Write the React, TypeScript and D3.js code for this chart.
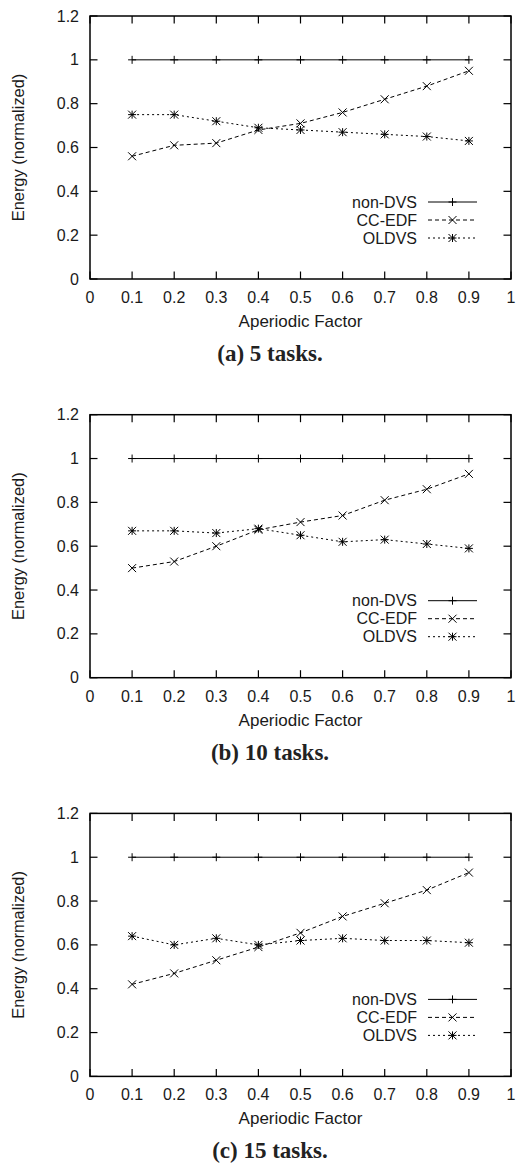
import React from 'react';
import * as d3 from 'd3';

// aperiodic factor values on the x axis
const factors = [0.1, 0.2, 0.3, 0.4, 0.5, 0.6, 0.7, 0.8, 0.9];

const xTicks = [0, 0.1, 0.2, 0.3, 0.4, 0.5, 0.6, 0.7, 0.8, 0.9, 1];
const xTickLabels = ['0', '0.1', '0.2', '0.3', '0.4', '0.5', '0.6', '0.7', '0.8', '0.9', '1'];
const yTicks = [0, 0.2, 0.4, 0.6, 0.8, 1, 1.2];
const yTickLabels = ['0', '0.2', '0.4', '0.6', '0.8', '1', '1.2'];

const seriesNames = ['non-DVS', 'CC-EDF', 'OLDVS'];

// (a) 5 tasks
const nonDvs5 = [1, 1, 1, 1, 1, 1, 1, 1, 1];
const ccEdf5 = [0.56, 0.61, 0.62, 0.68, 0.71, 0.76, 0.82, 0.88, 0.95];
const olDvs5 = [0.75, 0.75, 0.72, 0.69, 0.68, 0.67, 0.66, 0.65, 0.63];

// (b) 10 tasks
const nonDvs10 = [1, 1, 1, 1, 1, 1, 1, 1, 1];
const ccEdf10 = [0.5, 0.53, 0.6, 0.675, 0.71, 0.74, 0.81, 0.86, 0.93];
const olDvs10 = [0.67, 0.67, 0.66, 0.68, 0.65, 0.62, 0.63, 0.61, 0.59];

// (c) 15 tasks
const nonDvs15 = [1, 1, 1, 1, 1, 1, 1, 1, 1];
const ccEdf15 = [0.42, 0.47, 0.53, 0.59, 0.655, 0.73, 0.79, 0.85, 0.93];
const olDvs15 = [0.64, 0.6, 0.63, 0.6, 0.62, 0.63, 0.62, 0.62, 0.61];

const captions = ['(a) 5 tasks.', '(b) 10 tasks.', '(c) 15 tasks.'];

const panels = [
  [nonDvs5, ccEdf5, olDvs5],
  [nonDvs10, ccEdf10, olDvs10],
  [nonDvs15, ccEdf15, olDvs15],
];

const width = 516;
const height = 1163;
const panelStep = 398.7;
const margin = { top: 16, left: 90, right: 5 };
const plotH = 263;

const sans = '"Liberation Sans", Arial, Helvetica, sans-serif';
const serif = '"Liberation Serif", "Times New Roman", serif';

const dashes = [null, '4,3', '2,3'];

const markerPath = (k: number) => {
  const s = 4;
  const plus = `M${-s},0H${s}M0,${-s}V${s}`;
  const cross = `M${-s},${-s}L${s},${s}M${-s},${s}L${s},${-s}`;
  if (k === 0) return plus;
  if (k === 1) return cross;
  return plus + cross;
};

const xScale = d3
  .scaleLinear()
  .domain([0, 1])
  .range([margin.left, width - margin.right]);

const yScale = d3
  .scaleLinear()
  .domain([0, 1.2])
  .range([margin.top + plotH, margin.top]);

function Panel({ series, caption, offset }: { series: number[][]; caption: string; offset: number }) {
  const line = d3
    .line<number>()
    .x((d, i) => xScale(factors[i]))
    .y(d => yScale(d));

  const x0 = xScale(0);
  const x1 = xScale(1);
  const y0 = yScale(0);
  const y1 = yScale(1.2);
  const tick = 7.5;

  const legendRight = 417;
  const legendX0 = 428;
  const legendX1 = 477;
  const legendY = 202;

  return (
    <g transform={`translate(0,${offset})`}>
      {/* ticks, mirrored on all four sides */}
      {xTicks.map(t => (
        <g key={'xt' + t} stroke="#000" strokeWidth={1.2}>
          <line x1={xScale(t)} x2={xScale(t)} y1={y0} y2={y0 - tick} />
          <line x1={xScale(t)} x2={xScale(t)} y1={y1} y2={y1 + tick} />
        </g>
      ))}
      {yTicks.map(t => (
        <g key={'yt' + t} stroke="#000" strokeWidth={1.2}>
          <line x1={x0} x2={x0 + tick} y1={yScale(t)} y2={yScale(t)} />
          <line x1={x1} x2={x1 - tick} y1={yScale(t)} y2={yScale(t)} />
        </g>
      ))}
      <rect x={x0} y={y1} width={x1 - x0} height={y0 - y1} fill="none" stroke="#000" strokeWidth={1.5} />

      {/* tick labels */}
      {xTicks.map((t, i) => (
        <text key={'xl' + t} x={xScale(t)} y={y0 + 24} textAnchor="middle" fontFamily={sans} fontSize={16} fill="#1a1a1a">
          {xTickLabels[i]}
        </text>
      ))}
      {yTicks.map((t, i) => (
        <text key={'yl' + t} x={79} y={yScale(t) + 5.5} textAnchor="end" fontFamily={sans} fontSize={16} fill="#1a1a1a">
          {yTickLabels[i]}
        </text>
      ))}

      <text x={(x0 + x1) / 2} y={y0 + 48} textAnchor="middle" fontFamily={sans} fontSize={17} fill="#1a1a1a">
        Aperiodic Factor
      </text>
      <text
        transform={`translate(24,${(y0 + y1) / 2}) rotate(-90)`}
        textAnchor="middle"
        fontFamily={sans}
        fontSize={16.4}
        fill="#1a1a1a"
      >
        Energy (normalized)
      </text>
      <text x={270} y={y0 + 82} textAnchor="middle" fontFamily={serif} fontWeight="bold" fontSize={23} fill="#222">
        {caption}
      </text>

      {/* data */}
      {series.map((vals, k) => (
        <g key={'s' + k}>
          <path d={line(vals) || ''} fill="none" stroke="#000" strokeWidth={1} strokeDasharray={dashes[k] || undefined} />
          {vals.map((v, i) => (
            <path
              key={i}
              d={markerPath(k)}
              transform={`translate(${xScale(factors[i])},${yScale(v)})`}
              fill="none"
              stroke="#000"
              strokeWidth={1}
            />
          ))}
        </g>
      ))}

      {/* legend */}
      {seriesNames.map((name, k) => (
        <g key={'lg' + k} transform={`translate(0,${legendY + k * 18})`}>
          <text x={legendRight} y={5.5} textAnchor="end" fontFamily={sans} fontSize={16} fill="#1a1a1a">
            {name}
          </text>
          <line x1={legendX0} x2={legendX1} y1={0} y2={0} stroke="#000" strokeWidth={1} strokeDasharray={dashes[k] || undefined} />
          <path d={markerPath(k)} transform={`translate(${(legendX0 + legendX1) / 2},0)`} fill="none" stroke="#000" strokeWidth={1} />
        </g>
      ))}
    </g>
  );
}

export default function App() {
  return (
    <svg
      width={width}
      height={height}
      style={{ position: 'absolute', left: 0, top: 0, background: '#fff' }}
    >
      {panels.map((series, p) => (
        <Panel key={p} series={series} caption={captions[p]} offset={p * panelStep} />
      ))}
    </svg>
  );
}
